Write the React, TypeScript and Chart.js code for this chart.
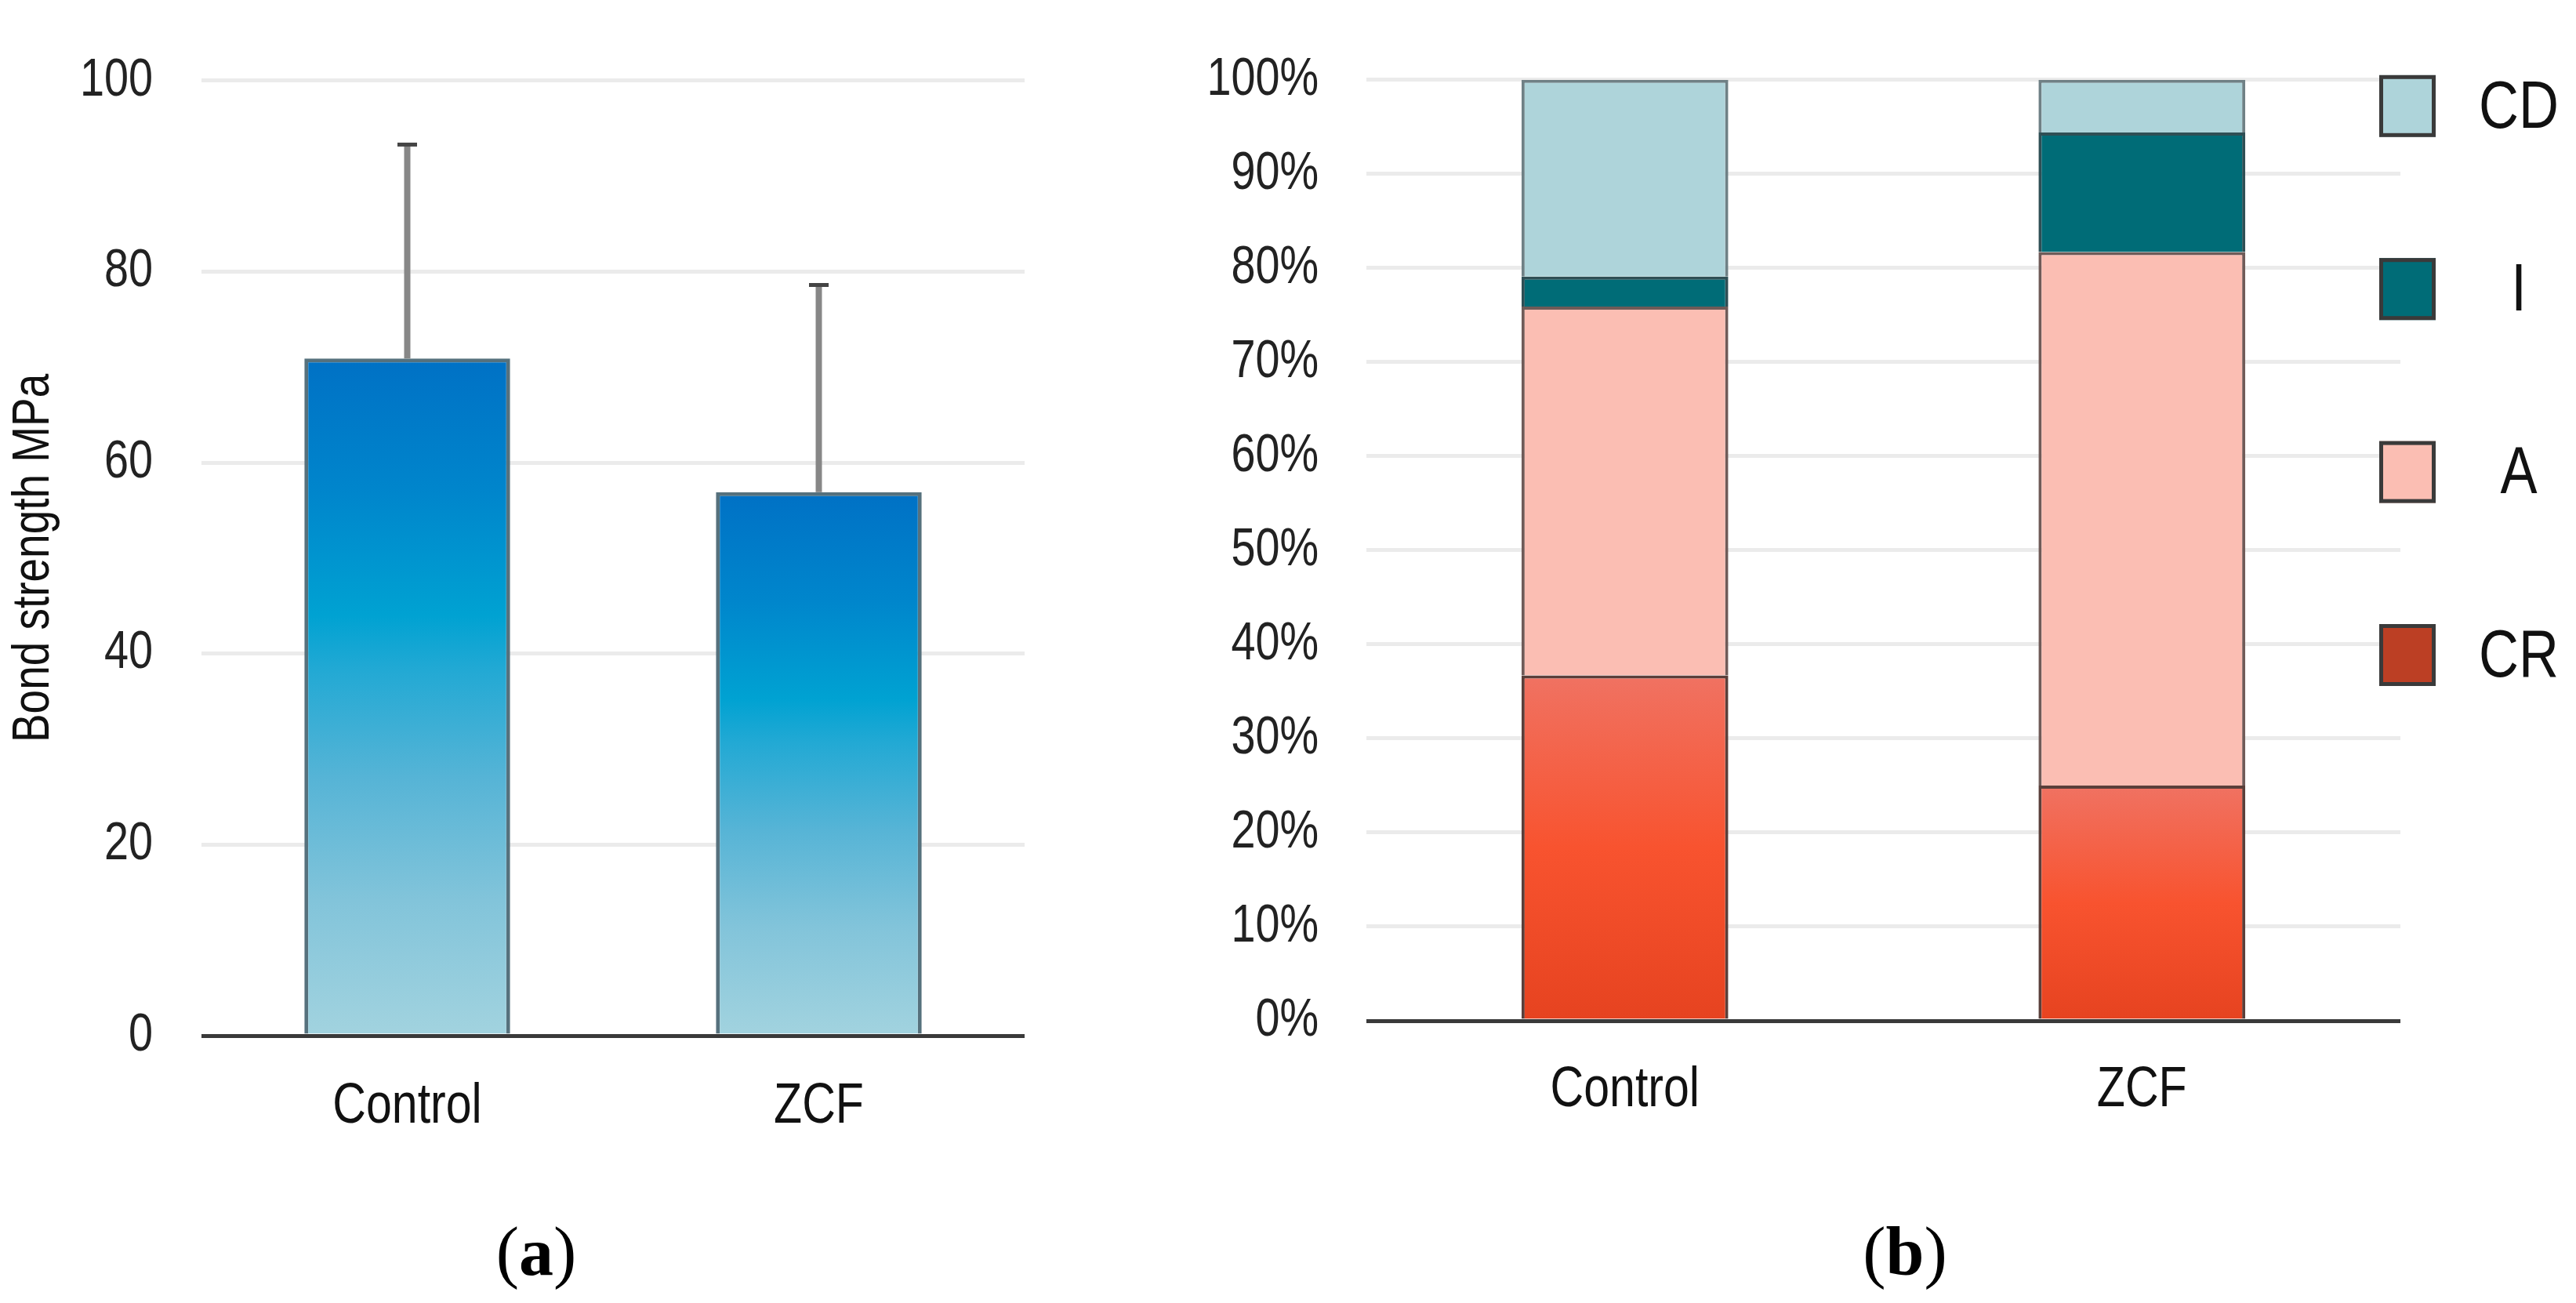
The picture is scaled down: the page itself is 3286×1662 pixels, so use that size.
import React, { useEffect, useRef } from 'react';
import { Chart, registerables } from 'chart.js';

Chart.register(...registerables);

// ---------- data ----------
const groups = ['Control', 'ZCF'];
const bondStrength = [70.9, 56.9];
const bondStrengthSD = [22.4, 21.7];

const failureModes = ['CR', 'A', 'I', 'CD'];
const crShare = [36.7, 25.0];
const aShare = [39.2, 56.7];
const iShare = [3.2, 12.7];
const cdShare = [20.9, 5.6];

const FONT = "'Liberation Sans', Arial, sans-serif";
const CONDENSE = 0.82;

// draws every canvas text horizontally condensed (Arial Narrow look)
const condensePlugin = {
  id: 'condense',
  beforeInit(chart: any) {
    const ctx = chart.ctx;
    if (ctx.__condensed) return;
    const orig = ctx.fillText.bind(ctx);
    ctx.fillText = (t: string, x: number, y: number) => {
      ctx.save();
      ctx.translate(x, y);
      ctx.scale(CONDENSE, 1);
      orig(t, 0, 0);
      ctx.restore();
    };
    ctx.__condensed = true;
  },
};

const errorBarPlugin = {
  id: 'errorBars',
  afterDatasetsDraw(chart: any) {
    const ds = chart.data.datasets[0];
    const meta = chart.getDatasetMeta(0);
    const y = chart.scales.y;
    const ctx = chart.ctx;
    ctx.save();
    meta.data.forEach((bar: any, i: number) => {
      const v = ds.data[i];
      const e = ds.errors[i];
      const yTop = y.getPixelForValue(v + e);
      const yBar = y.getPixelForValue(v);
      ctx.strokeStyle = '#878787';
      ctx.lineWidth = 8;
      ctx.beginPath();
      ctx.moveTo(bar.x, yBar);
      ctx.lineTo(bar.x, yTop);
      ctx.stroke();
      ctx.strokeStyle = '#444';
      ctx.lineWidth = 5;
      ctx.beginPath();
      ctx.moveTo(bar.x - 12.5, yTop);
      ctx.lineTo(bar.x + 12.5, yTop);
      ctx.stroke();
    });
    ctx.restore();
  },
};

const sideLegendPlugin = {
  id: 'sideLegend',
  afterDraw(chart: any) {
    const { ctx, chartArea } = chart;
    const ds = [...chart.data.datasets].reverse();
    ctx.save();
    ds.forEach((d: any, i: number) => {
      const bx = chartArea.right - 27;
      const by = chartArea.top - 6 + i * 233.4;
      ctx.fillStyle = d.legendColor;
      ctx.fillRect(bx, by, 72, 79);
      ctx.strokeStyle = '#3a3a3a';
      ctx.lineWidth = 5;
      ctx.strokeRect(bx + 2.5, by + 2.5, 67, 74);
      ctx.fillStyle = '#111';
      ctx.font = `86px ${FONT}`;
      ctx.textAlign = 'center';
      ctx.textBaseline = 'middle';
      ctx.fillText(d.label, chartArea.right + 151, by + 43);
    });
    ctx.restore();
  },
};

function blueGradient(c: any) {
  const chart = c.chart;
  const area = chart.chartArea;
  const y = chart.scales.y;
  if (!area || !y || c.raw == null) return '#0090d0';
  const top = y.getPixelForValue(c.raw);
  const base = y.getPixelForValue(0);
  const g = chart.ctx.createLinearGradient(0, top, 0, base);
  g.addColorStop(0, '#0071C5');
  g.addColorStop(0.2, '#0086CC');
  g.addColorStop(0.38, '#00A2D2');
  g.addColorStop(0.46, '#22A9D4');
  g.addColorStop(0.62, '#56B4D6');
  g.addColorStop(0.8, '#82C4DA');
  g.addColorStop(1, '#A2D3DF');
  return g;
}

function redGradient(c: any) {
  const chart = c.chart;
  const area = chart.chartArea;
  const y = chart.scales.y;
  if (!area || !y || c.raw == null) return '#F5532F';
  const top = y.getPixelForValue(c.raw);
  const base = y.getPixelForValue(0);
  const g = chart.ctx.createLinearGradient(0, top, 0, base);
  g.addColorStop(0, '#F07262');
  g.addColorStop(0.5, '#F8532F');
  g.addColorStop(1, '#E64320');
  return g;
}

const gridColor = (c: any) => (c.tick && c.tick.value === 0 ? '#3a3a3a' : '#EBEBEB');

function LeftChart() {
  const ref = useRef<HTMLCanvasElement>(null);
  useEffect(() => {
    const chart = new Chart(ref.current as HTMLCanvasElement, {
      type: 'bar',
      data: {
        labels: groups,
        datasets: [
          {
            label: 'Bond strength',
            data: bondStrength,
            errors: bondStrengthSD,
            backgroundColor: blueGradient,
            borderColor: '#56717d',
            borderWidth: 5,
            categoryPercentage: 1,
            barPercentage: 0.5,
          } as any,
        ],
      },
      options: {
        animation: false,
        responsive: false,
        devicePixelRatio: 1,
        layout: { padding: { left: 0, top: 53, right: 33, bottom: 19 } },
        plugins: { legend: { display: false }, tooltip: { enabled: false } },
        scales: {
          x: {
            grid: { display: false },
            border: { display: false },
            ticks: { color: '#111', font: { family: FONT, size: 72 }, padding: 40 },
            afterFit: (s: any) => { s.height = 140; },
          },
          y: {
            min: 0,
            max: 100,
            ticks: { stepSize: 20, color: '#222', font: { family: FONT, size: 68 }, padding: 62 },
            grid: { color: gridColor, lineWidth: 5, drawTicks: false },
            border: { display: false },
            title: {
              display: true,
              text: 'Bond strength MPa',
              color: '#111',
              font: { family: FONT, size: 67 },
              padding: { top: 3, bottom: 0 },
            },
            afterFit: (s: any) => { s.width = 257; },
          },
        },
      },
      plugins: [condensePlugin, errorBarPlugin],
    } as any);
    return () => chart.destroy();
  }, []);
  return (
    <canvas
      ref={ref}
      width={1340}
      height={1480}
      style={{ position: 'absolute', left: 0, top: 0, width: 1340, height: 1480 }}
    />
  );
}

function RightChart() {
  const ref = useRef<HTMLCanvasElement>(null);
  useEffect(() => {
    const chart = new Chart(ref.current as HTMLCanvasElement, {
      type: 'bar',
      data: {
        labels: groups,
        datasets: [
          { label: failureModes[0], data: crShare, backgroundColor: redGradient, legendColor: '#BC3F24', borderColor: '#5a3f3a', borderWidth: 4 },
          { label: failureModes[1], data: aShare, backgroundColor: '#FBBEB3', legendColor: '#FBBEB3', borderColor: '#6f5b58', borderWidth: 4 },
          { label: failureModes[2], data: iShare, backgroundColor: '#006C77', legendColor: '#006C77', borderColor: '#2f4f55', borderWidth: 4 },
          { label: failureModes[3], data: cdShare, backgroundColor: '#AED4DA', legendColor: '#AED4DA', borderColor: '#6f8085', borderWidth: 4 },
        ].map((d) => ({ ...d, categoryPercentage: 1, barPercentage: 0.4 })) as any,
      },
      options: {
        animation: false,
        responsive: false,
        devicePixelRatio: 1,
        layout: { padding: { left: 0, top: 51, right: 224, bottom: 38 } },
        plugins: { legend: { display: false }, tooltip: { enabled: false } },
        scales: {
          x: {
            stacked: true,
            grid: { display: false },
            border: { display: false },
            ticks: { color: '#111', font: { family: FONT, size: 72 }, padding: 38 },
            afterFit: (s: any) => { s.height = 140; },
          },
          y: {
            stacked: true,
            min: 0,
            max: 100,
            ticks: {
              stepSize: 10,
              color: '#222',
              font: { family: FONT, size: 68 },
              padding: 61,
              callback: (v: any) => `${v}%`,
            },
            grid: { color: gridColor, lineWidth: 5, drawTicks: false },
            border: { display: false },
            afterFit: (s: any) => { s.width = 263; },
          },
        },
      },
      plugins: [condensePlugin, sideLegendPlugin],
    } as any);
    return () => chart.destroy();
  }, []);
  return (
    <canvas
      ref={ref}
      width={1806}
      height={1480}
      style={{ position: 'absolute', left: 1480, top: 0, width: 1806, height: 1480 }}
    />
  );
}

const captionStyle: React.CSSProperties = {
  position: 'absolute',
  top: 1553,
  width: 200,
  textAlign: 'center',
  fontFamily: "'Liberation Serif', 'Times New Roman', serif",
  fontSize: 88,
  lineHeight: 1,
  color: '#000',
};

export default function App() {
  useEffect(() => {
    document.body.style.margin = '0';
  }, []);
  return (
    <div style={{ position: 'relative', width: 3286, height: 1662, background: '#fff', overflow: 'hidden' }}>
      <LeftChart />
      <RightChart />
      <div style={{ ...captionStyle, left: 684 - 100 }}>
        (<b>a</b>)
      </div>
      <div style={{ ...captionStyle, left: 2430 - 100 }}>
        (<b>b</b>)
      </div>
    </div>
  );
}
